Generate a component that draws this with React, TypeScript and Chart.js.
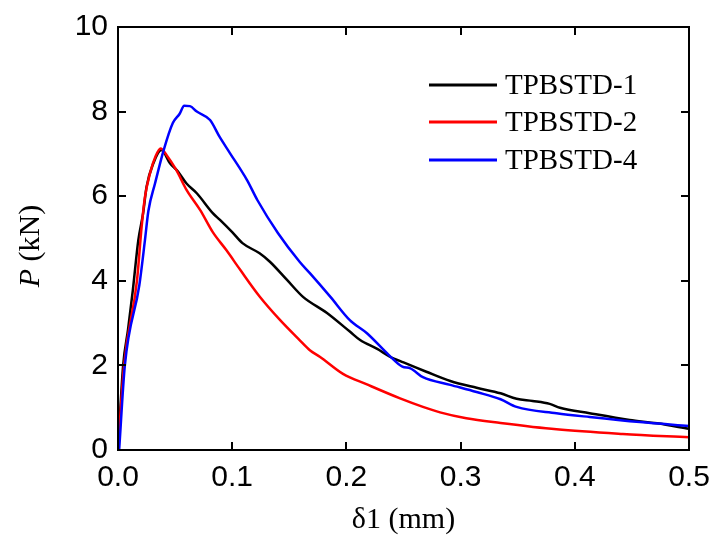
import React, { useEffect, useRef } from "react";
import { Chart, registerables } from "chart.js";

Chart.register(...registerables);

const seriesLabels = ["TPBSTD-1", "TPBSTD-2", "TPBSTD-4"];
const seriesColors = ["#000000", "#ff0000", "#0000ff"];
const xTickValues = [0, 0.1, 0.2, 0.3, 0.4, 0.5];
const yTickValues = [0, 2, 4, 6, 8, 10];
const xTitle = "δ1 (mm)";
const yTitleItalic = "P";
const yTitleRest = " (kN)";

const delta1 = [0, 0.0045, 0.0088, 0.013, 0.0178, 0.022, 0.025, 0.031, 0.038, 0.0455, 0.052, 0.06, 0.069, 0.083, 0.0893, 0.1, 0.109, 0.124, 0.133, 0.148, 0.162, 0.183, 0.203, 0.212, 0.227, 0.238, 0.25, 0.27, 0.291, 0.314, 0.335, 0.349, 0.363, 0.378, 0.387, 0.413, 0.448, 0.472, 0.5];
const load1 = [0, 2.0, 2.85, 3.78, 4.96, 5.6, 6.22, 6.78, 7.09, 6.78, 6.6, 6.3, 6.07, 5.6, 5.44, 5.15, 4.89, 4.65, 4.45, 4.02, 3.62, 3.24, 2.8, 2.6, 2.39, 2.21, 2.07, 1.85, 1.63, 1.47, 1.34, 1.21, 1.16, 1.09, 1.0, 0.87, 0.71, 0.63, 0.5];

const delta2 = [0, 0.0053, 0.0166, 0.0207, 0.0236, 0.028, 0.033, 0.0373, 0.0426, 0.051, 0.06, 0.072, 0.083, 0.095, 0.107, 0.124, 0.142, 0.159, 0.168, 0.177, 0.197, 0.218, 0.247, 0.267, 0.282, 0.305, 0.335, 0.384, 0.442, 0.5];
const load2 = [0, 2.0, 4.0, 5.28, 5.98, 6.54, 6.95, 7.13, 6.97, 6.62, 6.15, 5.67, 5.15, 4.72, 4.26, 3.63, 3.07, 2.6, 2.36, 2.2, 1.8, 1.55, 1.22, 1.02, 0.89, 0.75, 0.64, 0.49, 0.38, 0.3];

const delta4 = [0.001, 0.006, 0.0187, 0.0236, 0.0266, 0.0324, 0.04, 0.048, 0.054, 0.058, 0.063, 0.069, 0.0806, 0.089, 0.098, 0.113, 0.122, 0.14, 0.159, 0.168, 0.186, 0.203, 0.218, 0.237, 0.249, 0.256, 0.267, 0.291, 0.314, 0.335, 0.349, 0.384, 0.413, 0.457, 0.5];
const load4 = [0, 2.0, 3.9, 4.96, 5.65, 6.3, 7.09, 7.73, 7.95, 8.14, 8.13, 8.0, 7.8, 7.4, 7.02, 6.38, 5.91, 5.13, 4.45, 4.18, 3.62, 3.07, 2.76, 2.25, 1.97, 1.93, 1.72, 1.54, 1.37, 1.2, 1.02, 0.87, 0.78, 0.66, 0.57];

const seriesX = [delta1, delta2, delta4];
const seriesY = [load1, load2, load4];

const SANS = "'Liberation Sans', Arial, sans-serif";
const SERIF = "'Liberation Serif', 'Times New Roman', serif";

const decorPlugin = {
  id: "decor",
  afterDraw(chart: any) {
    const ctx = chart.ctx;
    const { left, right, top, bottom } = chart.chartArea;
    const xs = chart.scales.x;
    const ys = chart.scales.y;
    ctx.save();
    ctx.strokeStyle = "#000";
    ctx.lineWidth = 2;
    ctx.strokeRect(left, top, right - left, bottom - top);
    const tl = 8;
    ctx.beginPath();
    for (const v of xTickValues) {
      const px = Math.round(xs.getPixelForValue(v));
      ctx.moveTo(px, bottom);
      ctx.lineTo(px, bottom - tl);
      ctx.moveTo(px, top);
      ctx.lineTo(px, top + tl);
    }
    for (const v of yTickValues) {
      const py = Math.round(ys.getPixelForValue(v));
      ctx.moveTo(left, py);
      ctx.lineTo(left + tl, py);
      ctx.moveTo(right, py);
      ctx.lineTo(right - tl, py);
    }
    ctx.stroke();

    // x title
    ctx.fillStyle = "#000";
    ctx.font = `30px ${SERIF}`;
    ctx.textAlign = "center";
    ctx.textBaseline = "middle";
    ctx.fillText(xTitle, (left + right) / 2, 520);

    // y title (rotated, italic P)
    ctx.save();
    ctx.translate(31, 246);
    ctx.rotate(-Math.PI / 2);
    ctx.font = `italic 30px ${SERIF}`;
    const w1 = ctx.measureText(yTitleItalic).width;
    ctx.font = `30px ${SERIF}`;
    const w2 = ctx.measureText(yTitleRest).width;
    const start = -(w1 + w2) / 2;
    ctx.textAlign = "left";
    ctx.font = `italic 30px ${SERIF}`;
    ctx.fillText(yTitleItalic, start, 0);
    ctx.font = `30px ${SERIF}`;
    ctx.fillText(yTitleRest, start + w1, 0);
    ctx.restore();

    // legend
    const rows = [85, 122, 160];
    chart.data.datasets.forEach((ds: any, i: number) => {
      const yy = rows[i];
      ctx.strokeStyle = ds.borderColor;
      ctx.lineWidth = 3;
      ctx.beginPath();
      ctx.moveTo(429, yy);
      ctx.lineTo(497, yy);
      ctx.stroke();
      ctx.fillStyle = "#000";
      ctx.font = `29px ${SERIF}`;
      ctx.textAlign = "left";
      ctx.textBaseline = "middle";
      ctx.fillText(ds.label, 505, yy + 1);
    });
    ctx.restore();
  },
};

export default function App() {
  const ref = useRef<HTMLCanvasElement | null>(null);
  useEffect(() => {
    if (!ref.current) return;
    const datasets = seriesLabels.map((label, i) => ({
      label,
      data: seriesX[i].map((xv, j) => ({ x: xv, y: seriesY[i][j] })),
      borderColor: seriesColors[i],
      backgroundColor: seriesColors[i],
      borderWidth: 2.5,
      pointRadius: 0,
      cubicInterpolationMode: "monotone" as const,
      fill: false,
      order: 3 - i,
    }));
    const chart = new Chart(ref.current, {
      type: "line",
      data: { datasets },
      options: {
        animation: false,
        responsive: false,
        maintainAspectRatio: false,
        layout: { padding: { top: 27, right: 26, left: 0, bottom: 0 } },
        plugins: { legend: { display: false }, tooltip: { enabled: false }, title: { display: false } },
        scales: {
          x: {
            type: "linear",
            min: 0,
            max: 0.5,
            afterFit: (s: any) => { s.height = 89; s.paddingLeft = 0; s.paddingRight = 0; },
            afterBuildTicks: (s: any) => { s.ticks = xTickValues.map((v) => ({ value: v })); },
            grid: { display: false, drawTicks: false },
            border: { display: false },
            ticks: {
              padding: 10,
              color: "#000",
              font: { family: SANS, size: 30 },
              callback: (v: any) => Number(v).toFixed(1),
              maxRotation: 0,
              autoSkip: false,
            },
          },
          y: {
            type: "linear",
            min: 0,
            max: 10,
            afterFit: (s: any) => { s.width = 118; s.paddingTop = 0; s.paddingBottom = 0; },
            afterBuildTicks: (s: any) => { s.ticks = yTickValues.map((v) => ({ value: v })); },
            grid: { display: false, drawTicks: false },
            border: { display: false },
            ticks: {
              padding: 10,
              color: "#000",
              font: { family: SANS, size: 30 },
              callback: (v: any) => String(v),
              autoSkip: false,
            },
          },
        },
      },
      plugins: [decorPlugin],
    });
    return () => chart.destroy();
  }, []);
  return (
    <div style={{ position: "fixed", left: 0, top: 0, width: 715, height: 539, background: "#fff" }}>
      <canvas ref={ref} width={715} height={539} style={{ width: 715, height: 539 }} />
    </div>
  );
}
